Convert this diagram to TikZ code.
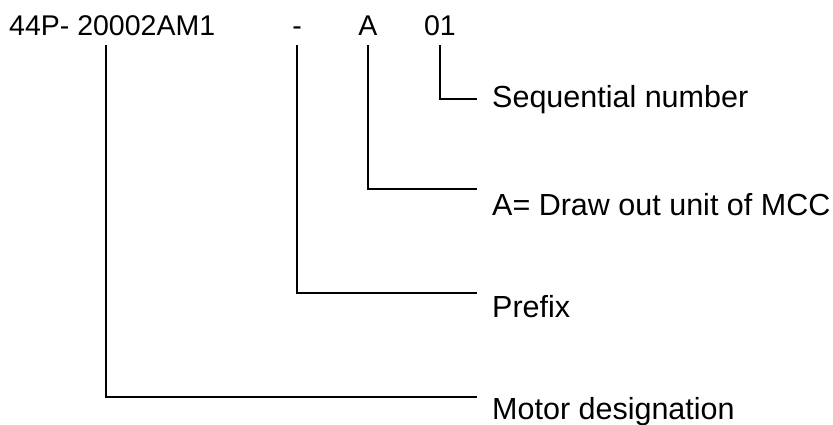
\documentclass[tikz,border=0pt]{standalone}
\usepackage{fontspec}
\setmainfont{Liberation Sans}
\usetikzlibrary{positioning}
\tikzset{
  codepart/.style={inner xsep=0pt,inner ysep=10pt,anchor=base,font=\fontsize{28.5}{34}\selectfont},
  desc/.style={inner sep=0pt,anchor=base west,font=\fontsize{30.5}{36}\selectfont},
  leader/.style={draw=black,line width=1.8pt}}

\begin{document}
\begin{tikzpicture}[x=1pt,y=-1pt]
  \useasboundingbox (0,0) rectangle (833,424);
  % the code as printed
  \node[codepart,anchor=base west] (motor) at (9,35) {44P- 20002AM1};
  \node[codepart] (dash) at (297,35) {-};
  \node[codepart] (unit) at (368,35) {A};
  \node[codepart] (seq) at (440,35) {01};
  % what each part stands for
  \node[desc] (seqtxt) at (492,107) {Sequential number};
  \node[desc] (unittxt) at (492,215) {A= Draw out unit of MCC};
  \node[desc] (dashtxt) at (492,317) {Prefix};
  \node[desc] (motortxt) at (492,419) {Motor designation};
  \coordinate (seqtip) at (477,99);
  \coordinate (unittip) at (477,189);
  \coordinate (dashtip) at (477,293);
  \coordinate (motortip) at (477,397);
  \draw[leader] (seq.south) |- (seqtip);
  \draw[leader] (unit.south) |- (unittip);
  \draw[leader] (dash.south) |- (dashtip);
  \draw[leader] ([xshift=97pt]motor.south west) |- (motortip);
\end{tikzpicture}
\end{document}
